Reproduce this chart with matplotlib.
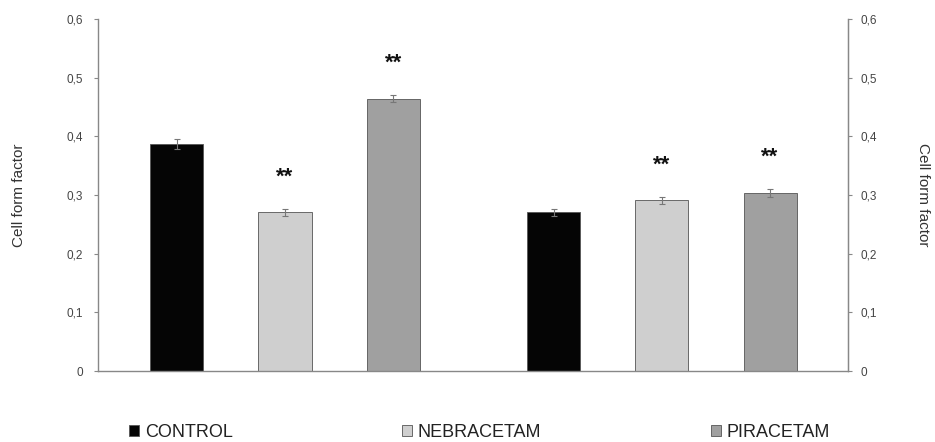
import matplotlib.pyplot as plt
import numpy as np

plt.rcParams['font.family'] = ['Liberation Sans', 'DejaVu Sans']

groups = ['CONTROL', 'NEBRACETAM', 'PIRACETAM']
set1 = [0.387, 0.271, 0.464]
set2 = [0.271, 0.291, 0.303]
err1 = [0.008, 0.006, 0.006]
err2 = [0.006, 0.006, 0.007]
stars1 = ['', '**', '**']
stars2 = ['', '**', '**']
colors = ['#050505', '#cfcfcf', '#a0a0a0']
yticks = [0, 0.1, 0.2, 0.3, 0.4, 0.5, 0.6]
ytick_labels = ['0', '0,1', '0,2', '0,3', '0,4', '0,5', '0,6']

fig = plt.figure(figsize=(9.35, 4.42), dpi=100)
ax = fig.add_axes([0.1048, 0.1606, 0.8022, 0.7964])

gap = 1.48
x1 = np.arange(3)
x2 = np.arange(3) + 2 + gap
bars = []
for i in range(3):
    b = ax.bar([x1[i], x2[i]], [set1[i], set2[i]], width=0.49, color=colors[i],
               edgecolor='#555555', linewidth=0.6, label=groups[i],
               yerr=[err1[i], err2[i]], error_kw=dict(ecolor='#777777', elinewidth=0.8, capsize=2, capthick=0.8))
    bars.append(b)
    for xx, v, e, s in [(x1[i], set1[i], err1[i], stars1[i]), (x2[i], set2[i], err2[i], stars2[i])]:
        if s:
            ax.text(xx, v + e + 0.036, s, ha='center', va='bottom', fontsize=16, fontweight='bold', color='#111111')

ax.set_xlim(-0.727, x2[-1] + 0.72)
ax.set_ylim(0, 0.6)
ax.set_xticks([])
ax.set_yticks(yticks)
ax.set_yticklabels(ytick_labels)
ax.spines['top'].set_visible(False)
for s in ['left', 'right', 'bottom']:
    ax.spines[s].set_color('#888888')
    ax.spines[s].set_linewidth(1.0)
ax.tick_params(axis='y', direction='out', length=3, color='#888888', labelsize=8.5, labelcolor='#444444', pad=8)
ax.set_ylabel('Cell form factor', fontsize=11, color='#333333', labelpad=29)

ax2 = ax.twinx()
ax2.set_ylim(0, 0.6)
ax2.set_yticks(yticks)
ax2.set_yticklabels(ytick_labels)
for s in ['top', 'left', 'bottom']:
    ax2.spines[s].set_visible(False)
ax2.spines['right'].set_color('#888888')
ax2.tick_params(axis='y', direction='out', length=3, color='#888888', labelsize=8.5, labelcolor='#444444', pad=6)
ax2.set_ylabel('Cell form factor', fontsize=11, color='#333333', rotation=270, labelpad=38)

fig.legend(handles=bars, labels=groups, loc='center left', bbox_to_anchor=(0.121, 0.0226),
           ncol=3, frameon=False, fontsize=13, handlelength=0.55, handleheight=0.55,
           handletextpad=0.3, columnspacing=9.4, labelcolor='#222222')

fig.savefig('out.png', dpi=100)
